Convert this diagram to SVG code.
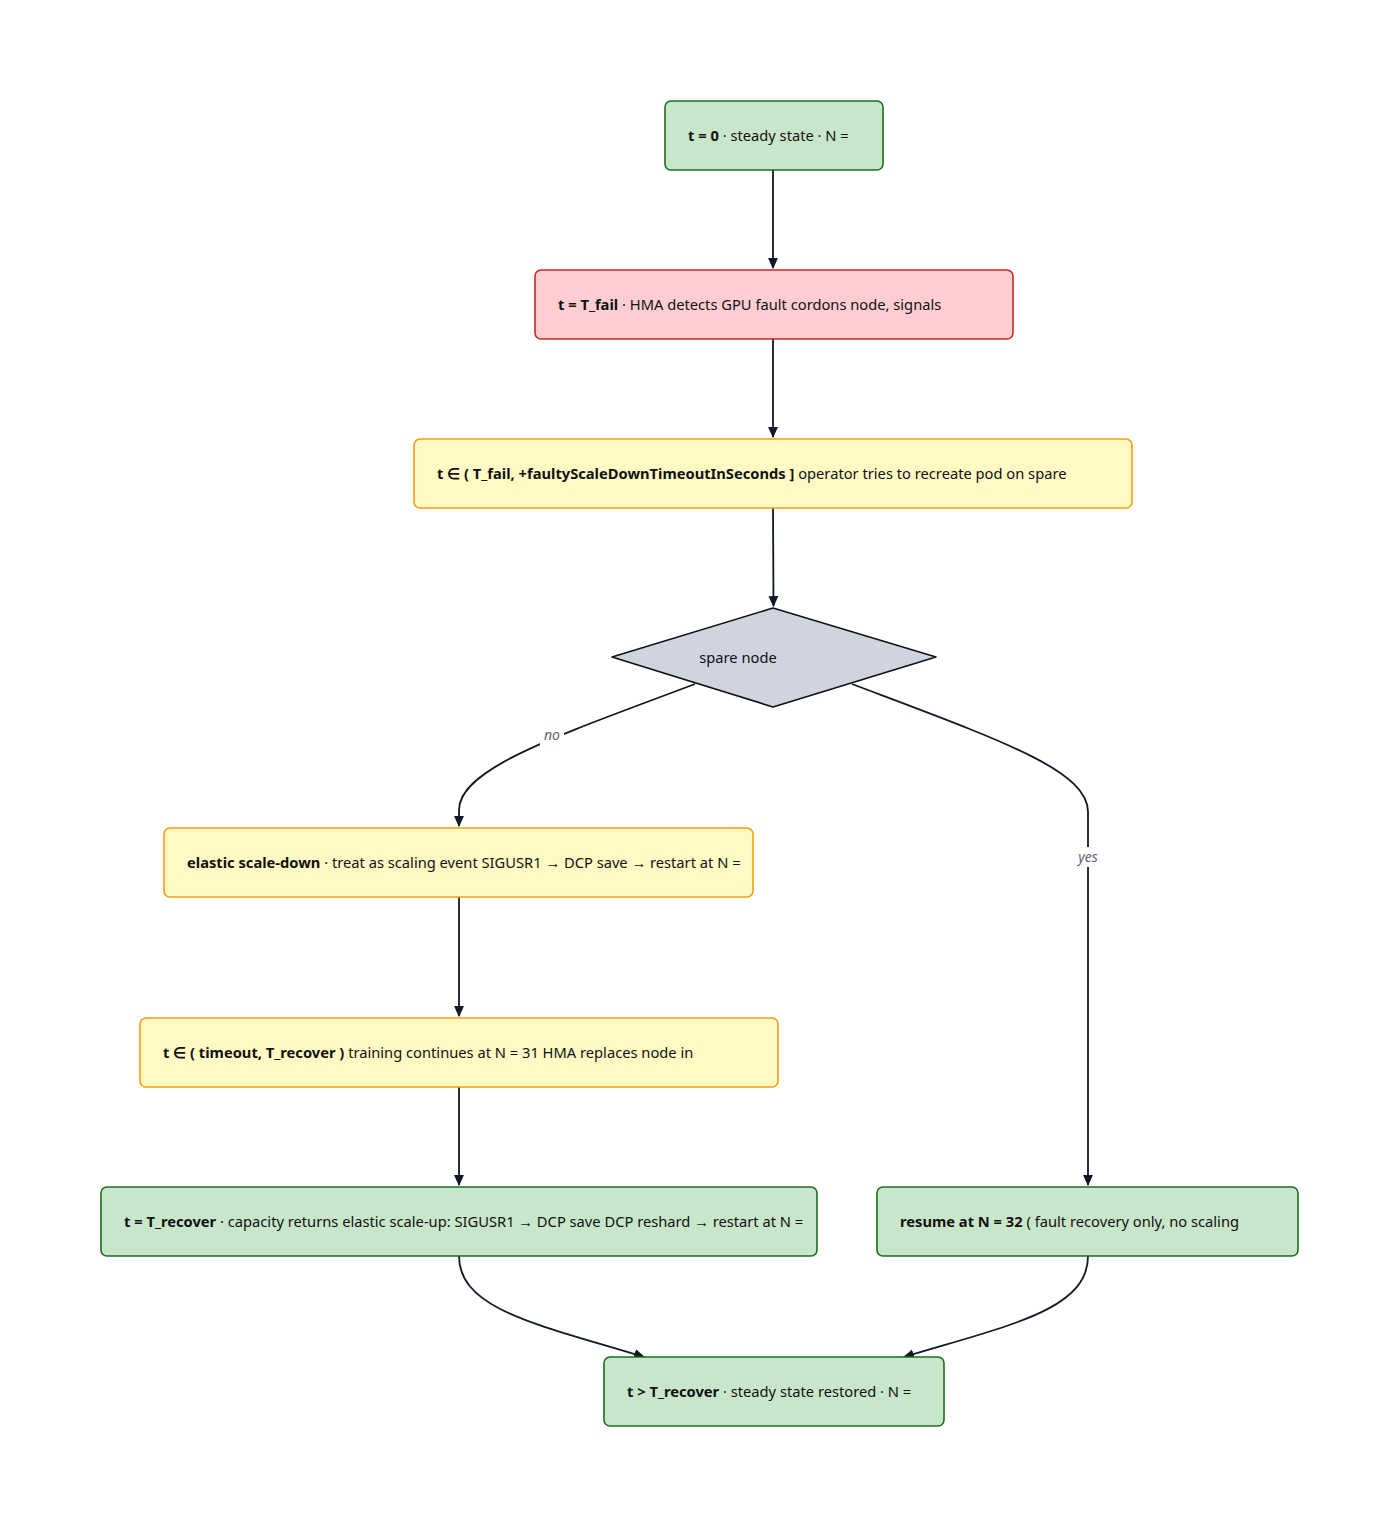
<svg xmlns="http://www.w3.org/2000/svg" width="1400" height="1527" viewBox="0 0 1400 1527">
<style>
.t{font-family:"Noto Sans","Liberation Sans",sans-serif;font-size:14.7px;fill:#111;}
.b{font-weight:700;}
.green{fill:#c8e6c9;stroke:#1b6e20;stroke-width:1.6;}
.red{fill:#ffcdd2;stroke:#c62828;stroke-width:1.6;}
.yel{fill:#fff9c4;stroke:#f59e0b;stroke-width:1.6;}
.dia{fill:#d0d3e0;stroke:#111;stroke-width:1.6;stroke-linejoin:round;}
.e{fill:none;stroke:#111827;stroke-width:1.8;}
.lbl{font-family:"Noto Sans","Liberation Sans",sans-serif;font-size:14px;font-style:italic;fill:#5f6478;}
</style>
<defs>
<marker id="ah" viewBox="0 0 10 10" refX="9" refY="5" markerWidth="11" markerHeight="11" orient="auto-start-reverse" markerUnits="userSpaceOnUse">
<path d="M0,0.5 L10,5 L0,9.5 z" fill="#111827"/>
</marker>
</defs>
<rect width="1400" height="1527" fill="#fff"/>
<g id="edges">
<path class="e" d="M773,170 L773,268" marker-end="url(#ah)"/>
<path class="e" d="M773,339 L773,437" marker-end="url(#ah)"/>
<path class="e" d="M773,508 L773.5,606" marker-end="url(#ah)"/>
<path class="e" d="M695,684 C560,735 459,768 459,810 L459,826" marker-end="url(#ah)"/>
<path class="e" d="M852,684 C1000,740 1088,770 1088,812 L1088,1185" marker-end="url(#ah)"/>
<path class="e" d="M459,897 L459,1016" marker-end="url(#ah)"/>
<path class="e" d="M459,1087 L459,1185" marker-end="url(#ah)"/>
<path class="e" d="M459,1256 C459,1310 540,1325 644,1357" marker-end="url(#ah)"/>
<path class="e" d="M1088,1256 C1088,1310 1010,1325 904,1357" marker-end="url(#ah)"/>
<rect x="540" y="725" width="24" height="20" fill="#fff"/>
<text class="lbl" x="552" y="740" text-anchor="middle">no</text>
<rect x="1073" y="847" width="30" height="20" fill="#fff"/>
<text class="lbl" x="1088" y="862" text-anchor="middle">yes</text>
</g>
<g id="n1">
<rect class="green" x="665" y="101" width="218" height="69" rx="6"/>
<text class="t" x="688" y="141"><tspan class="b">t = 0</tspan> · steady state · N =</text>
</g>
<g id="n2">
<rect class="red" x="535" y="270" width="478" height="69" rx="6"/>
<text class="t" x="558" y="310"><tspan class="b">t = T_fail</tspan> · HMA detects GPU fault cordons node, signals</text>
</g>
<g id="n3">
<rect class="yel" x="414" y="439" width="718" height="69" rx="6"/>
<text class="t" x="437" y="479"><tspan class="b">t ∈ ( T_fail, +faultyScaleDownTimeoutInSeconds ]</tspan> operator tries to recreate pod on spare</text>
</g>
<g id="n4">
<path class="dia" d="M773,608 L936,657 L773,707 L612,657 Z"/>
<text class="t" x="738" y="663" text-anchor="middle">spare node</text>
</g>
<g id="n5">
<rect class="yel" x="164" y="828" width="589" height="69" rx="6"/>
<text class="t" x="187" y="868"><tspan class="b">elastic scale-down</tspan> · treat as scaling event SIGUSR1 → DCP save → restart at N =</text>
</g>
<g id="n6">
<rect class="yel" x="140" y="1018" width="638" height="69" rx="6"/>
<text class="t" x="163" y="1058"><tspan class="b">t ∈ ( timeout, T_recover )</tspan> training continues at N = 31 HMA replaces node in</text>
</g>
<g id="n7">
<rect class="green" x="101" y="1187" width="716" height="69" rx="6"/>
<text class="t" x="124" y="1227"><tspan class="b">t = T_recover</tspan> · capacity returns elastic scale-up: SIGUSR1 → DCP save DCP reshard → restart at N =</text>
</g>
<g id="n8">
<rect class="green" x="877" y="1187" width="421" height="69" rx="6"/>
<text class="t" x="900" y="1227"><tspan class="b">resume at N = 32</tspan> ( fault recovery only, no scaling</text>
</g>
<g id="n9">
<rect class="green" x="604" y="1357" width="340" height="69" rx="6"/>
<text class="t" x="627" y="1397"><tspan class="b">t &gt; T_recover</tspan> · steady state restored · N =</text>
</g>
</svg>
